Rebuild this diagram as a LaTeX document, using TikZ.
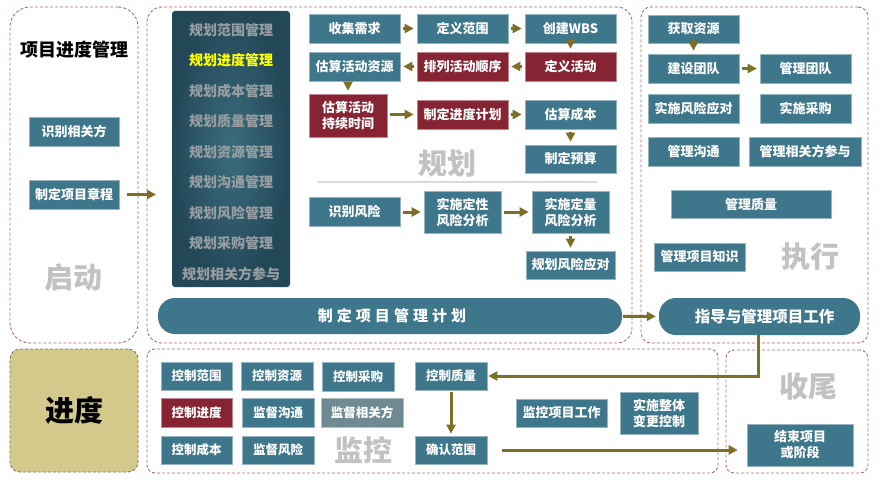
\documentclass[tikz,border=0pt]{standalone}
\usepackage{fontspec}
\setmainfont{Noto Sans CJK SC}
\newfontfamily\spacedfont[LetterSpace=27]{Noto Sans CJK SC}
\usetikzlibrary{arrows.meta}

\definecolor{boxteal}{HTML}{3E768B}
\definecolor{boxred}{HTML}{872434}
\definecolor{flowolive}{HTML}{7E6F27}
\definecolor{panelrose}{HTML}{A86C78}
\definecolor{stagegray}{HTML}{C2C2C2}
\definecolor{itemgray}{HTML}{979EA2}
\definecolor{itemyellow}{HTML}{FFFF00}
\definecolor{progkhaki}{HTML}{D3C98A}
\definecolor{stakegray}{HTML}{6F8A93}
\definecolor{coldark}{HTML}{234858}
\definecolor{collight}{HTML}{3B6C7D}

\begin{document}
\begin{tikzpicture}[x=1pt, y=-1pt,
  tbox/.style={fill=boxteal, draw=boxteal!55!white, line width=0.6pt, text=white,
    inner sep=0pt, minimum width=91pt, minimum height=29pt, align=center,
    font=\bfseries\fontsize{13}{16}\selectfont},
  rbox/.style={tbox, fill=boxred, draw=boxred!55!white},
  sbox/.style={tbox, minimum width=72pt, minimum height=28pt,
    font=\bfseries\fontsize{12.5}{15}\selectfont},
  panel/.style={draw=panelrose, dash pattern=on 3pt off 2pt, line width=0.9pt,
    rounded corners=15pt, inner sep=0pt},
  flow/.style={draw=flowolive, line width=3pt, -{Triangle[length=9pt,width=9pt]},
    shorten <=3pt, shorten >=3pt},
  stage/.style={text=stagegray, font=\bfseries\fontsize{29}{32}\selectfont},
  colitem/.style={font=\bfseries\fontsize{14}{16}\selectfont},
  planbar/.style={fill=boxteal, text=white, rounded corners=17pt, inner sep=0pt,
    font=\bfseries\fontsize{15.5}{18}\selectfont},
]

\fill[white] (0,0) rectangle (883,487);
\useasboundingbox (0,0) rectangle (883,487);

% panels
\node[panel, rounded corners=20pt, minimum width=128pt, minimum height=336pt] (startPanel) at (74,175) {};
\node[panel, minimum width=485pt, minimum height=336pt] (planPanel) at (389.5,175) {};
\node[panel, rounded corners=10pt, minimum width=227pt, minimum height=336pt] (execPanel) at (754.5,175) {};
\node[panel, rounded corners=8pt, minimum width=571pt, minimum height=124pt] (monPanel) at (432.5,411) {};
\node[panel, rounded corners=8pt, minimum width=142pt, minimum height=123pt] (closePanel) at (797,411.5) {};
\node[panel, draw=progkhaki!60!black, fill=progkhaki, rounded corners=10pt,
  minimum width=128pt, minimum height=123pt,
  font=\bfseries\fontsize{29}{32}\selectfont] (progress) at (74,410.5) {进度};

% initiating
\node[font=\bfseries\fontsize{18}{20}\selectfont] (title) at (74,50) {项目进度管理};
\node[tbox, minimum width=90pt] (identify) at (74,131.5) {识别相关方};
\node[tbox, minimum width=90pt] (charter) at (74,194.5) {制定项目章程};
\node[stage] (startLbl) at (73,278) {启动};
\coordinate (planIn) at (156,194.5);
\draw[flow, shorten <=8pt, shorten >=0pt] (charter) -- (planIn);

% planning column
\node[rounded corners=3pt, inner color=collight, outer color=coldark,
  minimum width=118pt, minimum height=276pt] (planCol) at (231,149) {};
\foreach \txt/\clr [count=\i] in {规划范围管理/itemgray, 规划进度管理/itemyellow,
    规划成本管理/itemgray, 规划质量管理/itemgray, 规划资源管理/itemgray,
    规划沟通管理/itemgray, 规划风险管理/itemgray, 规划采购管理/itemgray,
    规划相关方参与/itemgray}
  \node[colitem, text=\clr] (plan\i) at (231,{-0.5+30.5*\i}) {\txt};

% planning processes
\node[tbox] (gather)   at (354.5,28.5) {收集需求};
\node[tbox] (defScope) at (462.5,28.5) {定义范围};
\node[tbox] (wbs)      at (570.5,28.5) {创建WBS};
\node[tbox] (estRes)   at (354.5,66.5) {估算活动资源};
\node[rbox] (seqAct)   at (462.5,66.5) {排列活动顺序};
\node[rbox] (defAct)   at (570.5,66.5) {定义活动};
\node[rbox, minimum width=78pt, minimum height=43pt] (estDur) at (348,115.5) {估算活动\\持续时间};
\node[rbox] (devSched) at (462.5,114.5) {制定进度计划};
\node[tbox] (estCost)  at (570.5,114.5) {估算成本};
\node[tbox, minimum height=28pt] (budget) at (570.5,159) {制定预算};
\node[stage] (planLbl) at (447,163) {规划};
\coordinate (sepL) at (318,182);
\coordinate (sepR) at (597,182);
\draw[black!15, line width=1.5pt] (sepL) -- (sepR);
\node[tbox] (idRisk) at (354.5,212) {识别风险};
\node[tbox, minimum width=77pt, minimum height=42pt] (qualRisk)  at (462.5,212) {实施定性\\风险分析};
\node[tbox, minimum width=77pt, minimum height=42pt] (quantRisk) at (570.5,212) {实施定量\\风险分析};
\node[tbox, minimum width=89pt, minimum height=28pt] (riskResp)  at (570.5,265) {规划风险应对};

\draw[flow] (gather) -- (defScope);
\draw[flow] (defScope) -- (wbs);
\draw[flow] (wbs) -- (defAct);
\draw[flow] (defAct) -- (seqAct);
\draw[flow] (seqAct) -- (estRes);
\draw[flow] (estRes.south -| estDur.north) -- (estDur.north);
\draw[flow] (estDur.east |- devSched) -- (devSched);
\draw[flow] (devSched) -- (estCost);
\draw[flow] (estCost) -- (budget);
\draw[flow] (idRisk) -- (qualRisk);
\draw[flow] (qualRisk) -- (quantRisk);
\draw[flow] (quantRisk) -- (riskResp);

\node[planbar, minimum width=464pt, minimum height=36pt, font=\spacedfont\bfseries\fontsize{15}{18}\selectfont] (planBar) at (390,316) {\hspace*{4pt}制定项目管理计划};

% executing
\node[tbox, minimum height=28pt] (acquire) at (693.5,29) {获取资源};
\node[tbox] (develop)  at (693.5,68.5) {建设团队};
\node[tbox] (mgTeam)   at (805.5,68.5) {管理团队};
\node[tbox] (implRisk) at (693.5,108.5) {实施风险应对};
\node[tbox] (implProc) at (805.5,108.5) {实施采购};
\node[tbox] (mgComm)   at (693.5,151.5) {管理沟通};
\node[tbox, minimum width=112pt] (mgStake) at (805,151.5) {管理相关方参与};
\node[tbox, minimum width=160pt, minimum height=28pt] (mgQual) at (751,204) {管理质量};
\node[tbox, minimum height=28pt] (mgKnow) at (699.5,257) {管理项目知识};
\node[stage] (execLbl) at (810,257) {执行};
\node[planbar, minimum width=201pt, minimum height=37pt] (directBar) at (759.5,316.5) {\hspace*{10pt}指导与管理项目工作};

\draw[flow] (acquire) -- (develop);
\draw[flow] (develop) -- (mgTeam);
\draw[flow, shorten <=1pt, shorten >=3pt] (planBar) -- (directBar);

% monitoring and controlling
\node[sbox, minimum width=71pt] (ctrlScope) at (196.5,376) {控制范围};
\node[sbox] (ctrlRes)  at (277,376) {控制资源};
\node[sbox, minimum height=29pt] (ctrlProc) at (358,376.5) {控制采购};
\node[sbox] (ctrlQual) at (451,376) {控制质量};
\node[sbox, fill=boxred, draw=boxred!55!white, minimum width=71pt, minimum height=29pt] (ctrlSched) at (196.5,412.5) {控制进度};
\node[sbox, minimum height=29pt] (monComm) at (278,412.5) {监督沟通};
\node[sbox, fill=stakegray, draw=stakegray!55!white, minimum width=82pt, minimum height=29pt] (monStake) at (362,412.5) {监督相关方};
\node[sbox, minimum width=71pt] (ctrlCost) at (196.5,450) {控制成本};
\node[sbox] (monRisk) at (278,450) {监督风险};
\node[stage] (monLbl) at (363,450) {监控};
\node[sbox] (confirm) at (451,450) {确认范围};
\node[tbox, minimum height=28pt] (monWork) at (561.5,413) {监控项目工作};
\node[tbox, minimum width=78pt, minimum height=42pt] (integ) at (659,413) {实施整体\\变更控制};

% closing
\node[stage] (closeLbl) at (808,387) {收尾};
\node[tbox, minimum width=106pt, minimum height=42pt] (closeProj) at (800,445) {结束项目\\或阶段};

\coordinate (dropX) at (758,0);
\draw[flow, shorten <=0pt, shorten >=1pt] (directBar.south -| dropX) |- (ctrlQual.east);
\draw[flow, shorten <=2pt, shorten >=2pt] (ctrlQual) -- (confirm);
\draw[flow, shorten <=15pt, shorten >=9pt] (confirm.east) -- (confirm.east -| closeProj.west);

\end{tikzpicture}
\end{document}
